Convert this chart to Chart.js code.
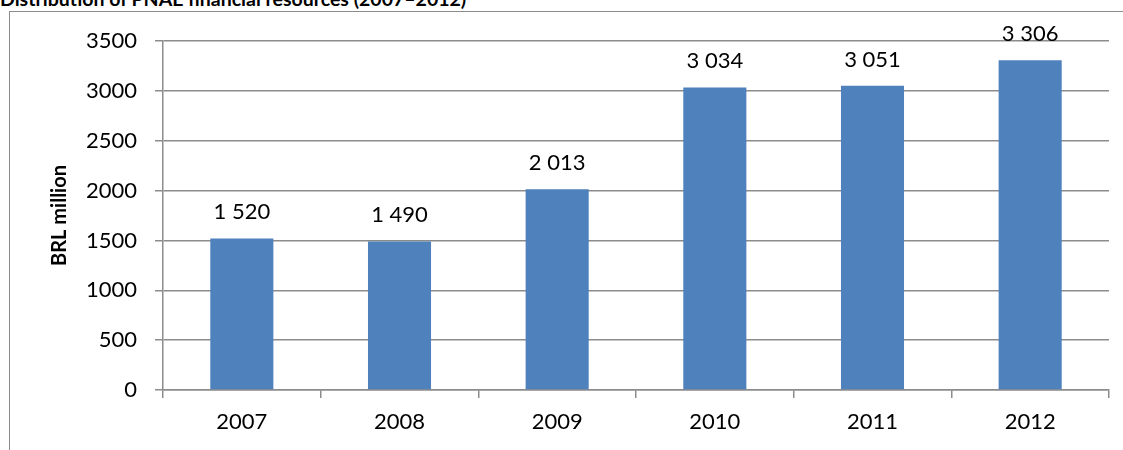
<!DOCTYPE html>
<html>
<head>
<meta charset="utf-8">
<script src="https://cdn.jsdelivr.net/npm/chart.js@4.4.1/dist/chart.umd.min.js"></script>
<style>
  html, body { margin: 0; padding: 0; background: #fff; overflow: hidden; }
  #wrap { position: relative; width: 1123px; height: 450px; }
  #title {
    position: absolute; left: 0; top: -11px; margin: 0;
    font: bold 19.5px Lato, sans-serif; line-height: 20px; color: #000; white-space: nowrap;
  }
  #frame {
    position: absolute; left: 9px; top: 11px; width: 1130px; height: 460px;
    border-left: 1.5px solid #8c8c8c; border-top: 1.5px solid #8c8c8c;
  }
  #chart { position: absolute; left: 0; top: 0; }
</style>
</head>
<body>
<div id="wrap">
  <div id="title">Distribution of PNAE financial resources (2007–2012)</div>
  <div id="frame"></div>
  <canvas id="chart" width="1123" height="450"></canvas>
</div>
<script>
document.addEventListener("DOMContentLoaded", function () {
    const years = ["2007", "2008", "2009", "2010", "2011", "2012"];
    const resources = [1520, 1490, 2013, 3034, 3051, 3306];
    const valueLabels = ["1 520", "1 490", "2 013", "3 034", "3 051", "3 306"];

    const gridColor = "#8c8c8c";
    const fontFamily = "Lato, 'Open Sans', sans-serif";

    // value labels above each bar
    const barLabels = {
        id: "barLabels",
        afterDatasetsDraw(chart) {
            const ctx = chart.ctx;
            const meta = chart.getDatasetMeta(0);
            ctx.save();
            ctx.font = "22px " + fontFamily;
            ctx.fillStyle = "#000";
            ctx.textAlign = "center";
            ctx.textBaseline = "alphabetic";
            meta.data.forEach((bar, i) => {
                ctx.fillText(valueLabels[i], bar.x, bar.y - 19);
            });
            ctx.restore();
        }
    };

    new Chart(document.getElementById("chart"), {
        type: "bar",
        data: {
            labels: years,
            datasets: [{
                data: resources,
                backgroundColor: "#4f81bd",
                borderWidth: 0,
                barPercentage: 0.4,
                categoryPercentage: 1.0
            }]
        },
        options: {
            responsive: false,
            animation: false,
            layout: { padding: { top: 41, right: 14, bottom: 0, left: 0 } },
            plugins: {
                legend: { display: false },
                tooltip: { enabled: false }
            },
            scales: {
                x: {
                    afterFit(scale) { scale.height = 60; },
                    grid: {
                        offset: true,
                        drawOnChartArea: false,
                        drawTicks: true,
                        tickLength: 8,
                        color: gridColor,
                        lineWidth: 1.5
                    },
                    border: { display: true, color: gridColor, width: 1.5 },
                    ticks: {
                        color: "#000",
                        padding: 11,
                        font: { family: fontFamily, size: 22 }
                    }
                },
                y: {
                    min: 0,
                    max: 3500,
                    afterFit(scale) { scale.width = 163; },
                    grid: {
                        color: gridColor,
                        lineWidth: 1.5,
                        tickLength: 8
                    },
                    border: { display: true, color: gridColor, width: 1.5 },
                    ticks: {
                        stepSize: 500,
                        color: "#000",
                        padding: 18,
                        font: { family: fontFamily, size: 22 },
                        callback: (v) => String(v)
                    },
                    title: {
                        display: true,
                        text: "BRL million",
                        color: "#000",
                        padding: { top: 48, bottom: 0 },
                        font: { family: fontFamily, size: 20, weight: "bold" }
                    }
                }
            }
        },
        plugins: [barLabels]
    });
});
</script>
</body>
</html>
